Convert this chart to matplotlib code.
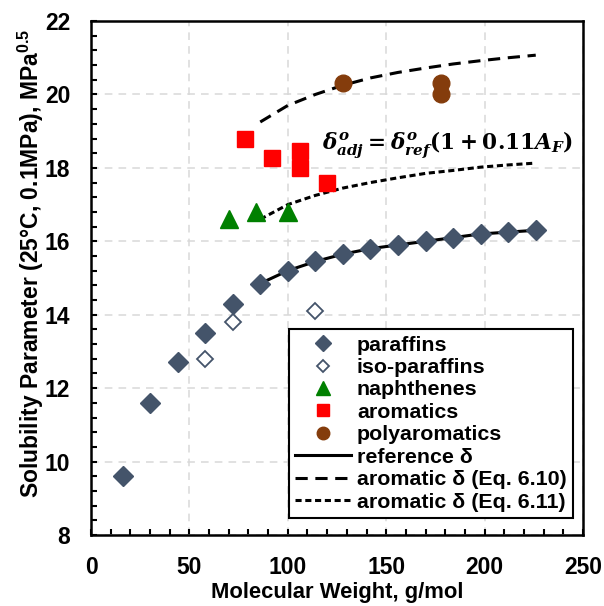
import numpy as np
import matplotlib
matplotlib.use("Agg")
import matplotlib.pyplot as plt
from matplotlib.ticker import MultipleLocator

plt.rcParams['font.family'] = ['Liberation Sans', 'DejaVu Sans']
plt.rcParams['font.weight'] = 'bold'
plt.rcParams['mathtext.fontset'] = 'custom'
plt.rcParams['mathtext.rm'] = 'Liberation Sans:bold'
plt.rcParams['mathtext.bf'] = 'Liberation Sans:bold'

# data
mw_par = [16, 30, 44, 58, 72, 86, 100, 114, 128, 142, 156, 170, 184, 198, 212, 226]
d_par = [9.6, 11.6, 12.7, 13.5, 14.3, 14.85, 15.2, 15.45, 15.65, 15.8, 15.9, 16.0, 16.1, 16.2, 16.25, 16.3]
mw_iso = [58, 72, 114]
d_iso = [12.8, 13.8, 14.1]
mw_nap = [70, 84, 100]
d_nap = [16.6, 16.8, 16.8]
mw_aro = [78, 92, 106, 106, 120]
d_aro = [18.8, 18.26, 18.45, 18.0, 17.6]
mw_poly = [128, 178, 178]
d_poly = [20.3, 20.3, 20.0]

mw_curve = [86, 100, 114, 128, 142, 156, 170, 184, 198, 212, 226]
d_ref = [14.85, 15.2, 15.45, 15.65, 15.8, 15.9, 16.0, 16.1, 16.2, 16.25, 16.3]
d_eq610 = [19.25, 19.7, 20.0, 20.25, 20.45, 20.6, 20.72, 20.83, 20.92, 21.0, 21.07]
d_eq611 = [16.6, 17.0, 17.25, 17.45, 17.6, 17.73, 17.85, 17.93, 18.02, 18.08, 18.13]

fig = plt.figure(figsize=(6.04, 6.06), dpi=100)
ax = fig.add_axes([0.1507, 0.1172, 0.8145, 0.8481])

ax.plot(mw_par, d_par, 'D', color='#44546A', ms=10.5, label='paraffins', zorder=4)
ax.plot(mw_iso, d_iso, 'D', mfc='white', mec='#44546A', mew=1.3, ms=8.5, label='iso-paraffins', zorder=4)
ax.plot(mw_nap, d_nap, '^', color='#008000', ms=13, label='naphthenes', zorder=4)
ax.plot(mw_aro, d_aro, 's', color='#FF0000', ms=11, label='aromatics', zorder=4)
ax.plot(mw_poly, d_poly, 'o', color='#843C0C', ms=12, label='polyaromatics', zorder=4)
ax.plot(mw_curve, d_ref, '-', color='black', lw=2.2, label='reference δ', zorder=3)
ax.plot(mw_curve, d_eq610, '--', color='black', lw=2.2, dashes=(4, 2.5), label='aromatic δ (Eq. 6.10)', zorder=3)
ax.plot(mw_curve, d_eq611, '--', color='black', lw=2.2, dashes=(2, 1.2), label='aromatic δ (Eq. 6.11)', zorder=3)

ax.text(117.5, 18.62, r'$\boldsymbol{\delta^o_{adj} = \delta^o_{ref}(1+0.11A_F)}$',
        fontsize=15.6, math_fontfamily='dejavuserif', va='center', ha='left')

ax.set_xlim(0, 250)
ax.set_ylim(8, 22)
ax.xaxis.set_major_locator(MultipleLocator(50))
ax.xaxis.set_minor_locator(MultipleLocator(10))
ax.yaxis.set_major_locator(MultipleLocator(2))
ax.yaxis.set_minor_locator(MultipleLocator(0.4))
ax.tick_params(which='both', direction='in', labelsize=16.5, width=1.5, length=4, pad=15)
for lbl in ax.get_xticklabels() + ax.get_yticklabels():
    lbl.set_fontweight('bold')
for s in ax.spines.values():
    s.set_linewidth(1.8)
ax.grid(True, which='major', color='#D9D9D9', linestyle='--', lw=1.1, dashes=(5, 4))
ax.set_axisbelow(True)

ax.set_xlabel('Molecular Weight, g/mol', fontsize=15.8, fontweight='bold', labelpad=2.5)
ax.set_ylabel(r'Solubility Parameter (25°C, 0.1MPa), MPa$^{0.5}$', fontsize=16.5, fontweight='bold')
ax.yaxis.set_label_coords(-0.092, 0.528)

leg = ax.legend(loc='lower right', bbox_to_anchor=(0.98, 0.033), frameon=True,
                fancybox=False, edgecolor='black', handlelength=2.6, handletextpad=0.3,
                labelspacing=0.16, borderpad=0.3, borderaxespad=0, markerscale=0.75,
                prop={'weight': 'bold', 'size': 15.4})
leg.get_frame().set_linewidth(1.5)
leg.get_frame().set_alpha(1)

fig.savefig('out.png', dpi=100)
